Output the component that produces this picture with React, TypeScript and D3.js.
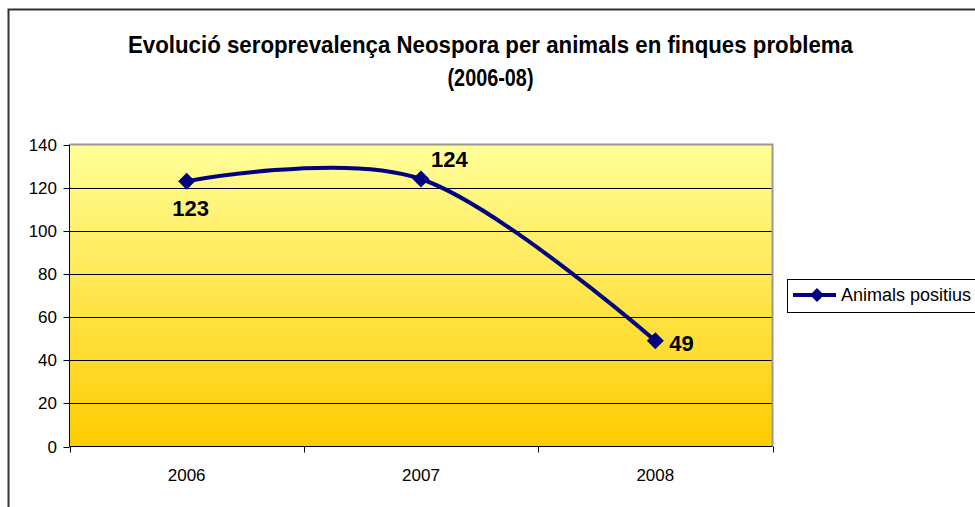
import React from "react";
import * as d3 from "d3";

const years = ["2006", "2007", "2008"];
const positius = [123, 124, 49];
const labelPlacement = ["below", "aboveRight", "right"];
const yTicks = [0, 20, 40, 60, 80, 100, 120, 140];
const titleLines = [
  "Evolució seroprevalença Neospora per animals en finques problema",
  "(2006-08)",
];
const titleWidths = [725, 86];
const seriesName = "Animals positius";

const W = 975;
const H = 507;
const plot = { left: 69.5, right: 772.5, top: 144.5, bottom: 446.5 };
const NAVY = "#000080";
const FONT = "'Liberation Sans', Arial, sans-serif";

function diamond(cx: number, cy: number, r: number) {
  return `M${cx},${cy - r}L${cx + r},${cy}L${cx},${cy + r}L${cx - r},${cy}Z`;
}

export default function App() {
  const x = d3.scaleBand<string>().domain(years).range([plot.left, plot.right]);
  const y = d3.scaleLinear().domain([0, 140]).range([plot.bottom, plot.top]);
  const cx = (d: string) => (x(d) as number) + x.bandwidth() / 2;

  const pts: [number, number][] = years.map((d, i) => [cx(d), y(positius[i])]);
  const line = d3.line().curve(d3.curveCardinal.tension(0))(pts) as string;

  const xTickPos = [...years.map((d) => x(d) as number), plot.right];

  return (
    <svg
      width={W}
      height={H}
      style={{ position: "absolute", left: 0, top: 0, background: "#fff" }}
      fontFamily={FONT}
    >
      <defs>
        <linearGradient id="plotGrad" x1="0" y1="0" x2="0" y2="1">
          <stop offset="0" stopColor="#FFFF99" />
          <stop offset="1" stopColor="#FFCC00" />
        </linearGradient>
      </defs>
      {/* chart border */}
      <rect x={8.5} y={9.5} width={W + 10} height={H + 10} fill="none" stroke="#333" strokeWidth={2} />

      {/* title */}
      {titleLines.map((t, i) => (
        <text
          key={i}
          x={490.5}
          y={53 + i * 33}
          textAnchor="middle"
          fontWeight="bold"
          fontSize={23}
          textLength={titleWidths[i]}
          lengthAdjust="spacingAndGlyphs"
          fill="#000"
        >
          {t}
        </text>
      ))}

      {/* plot area */}
      <rect
        x={plot.left}
        y={plot.top}
        width={plot.right - plot.left}
        height={plot.bottom - plot.top}
        fill="url(#plotGrad)"
      />
      {/* gridlines */}
      {yTicks
        .filter((v) => v > 0 && v < 140)
        .map((v) => (
          <line key={v} x1={plot.left} x2={plot.right} y1={Math.round(y(v)) + 0.5} y2={Math.round(y(v)) + 0.5} stroke="#000" strokeWidth={1} />
        ))}
      {/* gray top/right border */}
      <path
        d={`M${plot.left},${plot.top}H${plot.right}V${plot.bottom}`}
        fill="none"
        stroke="#999"
        strokeWidth={2}
      />
      {/* axes */}
      <line x1={plot.left} x2={plot.left} y1={plot.top} y2={plot.bottom} stroke="#000" />
      <line x1={plot.left} x2={plot.right} y1={plot.bottom} y2={plot.bottom} stroke="#000" />
      {yTicks.map((v) => (
        <g key={v}>
          <line x1={plot.left - 6} x2={plot.left} y1={Math.round(y(v)) + 0.5} y2={Math.round(y(v)) + 0.5} stroke="#000" />
          <text x={57} y={y(v)} dy="0.36em" textAnchor="end" fontSize={17} fill="#000">
            {v}
          </text>
        </g>
      ))}
      {xTickPos.map((p, i) => (
        <line key={i} x1={Math.round(p) + 0.5} x2={Math.round(p) + 0.5} y1={plot.bottom} y2={plot.bottom + 6} stroke="#000" />
      ))}
      {years.map((d) => (
        <text key={d} x={cx(d)} y={481} textAnchor="middle" fontSize={17} fill="#000">
          {d}
        </text>
      ))}

      {/* series */}
      <path d={line} fill="none" stroke={NAVY} strokeWidth={4} strokeLinejoin="round" />
      {pts.map(([px, py], i) => (
        <path key={i} d={diamond(px, py, 8.5)} fill={NAVY} />
      ))}
      {pts.map(([px, py], i) => {
        const pl = labelPlacement[i];
        let tx = px, ty = py, anchor: "start" | "middle" = "middle";
        if (pl === "below") { tx = px + 4; ty = py + 35; }
        else if (pl === "aboveRight") { tx = px + 10; ty = py - 12; anchor = "start"; }
        else { tx = px + 14; ty = py + 10; anchor = "start"; }
        return (
          <text key={i} x={tx} y={ty} textAnchor={anchor} fontWeight="bold" fontSize={22} fill="#000">
            {positius[i]}
          </text>
        );
      })}

      {/* legend */}
      <rect x={787.5} y={279.5} width={200} height={33} fill="#fff" stroke="#000" strokeWidth={1} />
      <line x1={793} x2={836} y1={295} y2={295} stroke={NAVY} strokeWidth={4} />
      <path d={diamond(817, 295, 7)} fill={NAVY} />
      <text x={841} y={295} dy="0.36em" fontSize={18} fill="#000">
        {seriesName}
      </text>
    </svg>
  );
}
